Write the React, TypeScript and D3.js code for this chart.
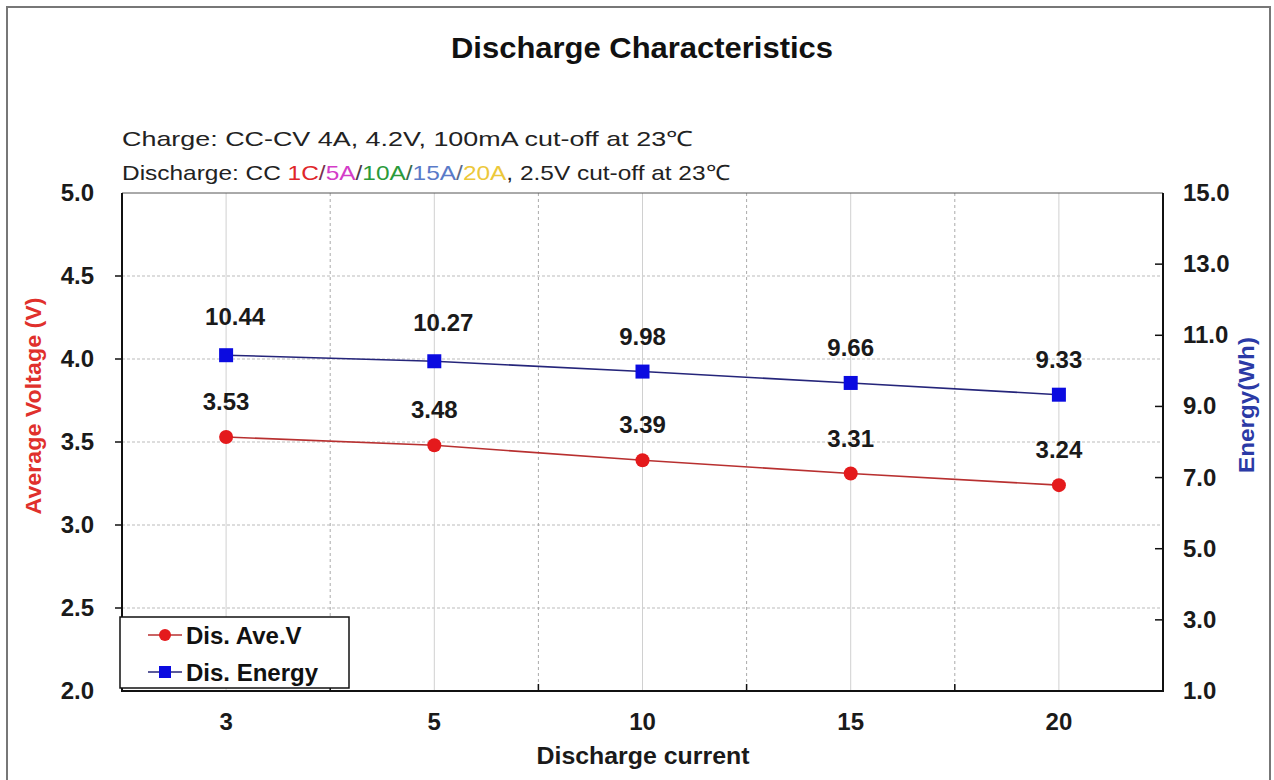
import React from "react";
import * as d3 from "d3";

const categories = ["3", "5", "10", "15", "20"];
const voltage = [3.53, 3.48, 3.39, 3.31, 3.24];
const energy = [10.44, 10.27, 9.98, 9.66, 9.33];
const voltageTicks = [2.0, 2.5, 3.0, 3.5, 4.0, 4.5, 5.0];
const energyTicks = [1, 3, 5, 7, 9, 11, 13, 15];
const seriesNames = ["Dis. Ave.V", "Dis. Energy"];
const subtitle1 = "Charge: CC-CV 4A, 4.2V, 100mA cut-off at 23\u2103";
const subtitle2Parts = [
  { t: "Discharge: CC ", c: "#222" },
  { t: "1C", c: "#e0262a" },
  { t: "/", c: "#7a3050" },
  { t: "5A", c: "#d43cc8" },
  { t: "/", c: "#4a3a4a" },
  { t: "10A", c: "#2a9a3a" },
  { t: "/", c: "#3a6a4a" },
  { t: "15A", c: "#5a7ac8" },
  { t: "/", c: "#5a6a8a" },
  { t: "20A", c: "#ecc83a" },
  { t: ", 2.5V cut-off at 23\u2103", c: "#222" },
];

const W = 1274;
const H = 780;
const L = 122, R = 1163, T = 193, B = 691;
const FONT = "'Liberation Sans', Arial, sans-serif";

export default function App() {
  const x = d3.scaleBand<string>().domain(categories).range([L, R]).padding(0);
  const cx = (c: string) => (x(c) as number) + x.bandwidth() / 2;
  const yV = d3.scaleLinear().domain([2, 5]).range([B, T]);
  const yE = d3.scaleLinear().domain([1, 15]).range([B, T]);

  const vLine = d3.line<number>().x((_, i) => cx(categories[i])).y((d) => yV(d));
  const eLine = d3.line<number>().x((_, i) => cx(categories[i])).y((d) => yE(d));

  const boundaries = categories.slice(1).map((c) => x(c) as number);

  return (
    <svg
      width={W}
      height={H}
      style={{ position: "absolute", left: 0, top: 0, background: "#fff" }}
      fontFamily={FONT}
    >
      <rect x={0} y={0} width={W} height={H} fill="#fff" />
      {/* outer frame */}
      <rect x={7} y={7} width={1263} height={790} fill="none" stroke="#777" strokeWidth={2} />

      {/* title */}
      <text x={642} y={58} textAnchor="middle" fontSize={30} fontWeight="bold" fill="#111" textLength={382} lengthAdjust="spacingAndGlyphs">
        Discharge Characteristics
      </text>
      <text x={122} y={146} fontSize={21} fill="#222" textLength={571} lengthAdjust="spacingAndGlyphs">
        {subtitle1}
      </text>
      <text x={122} y={180} fontSize={21} textLength={608} lengthAdjust="spacingAndGlyphs">
        {subtitle2Parts.map((p, i) => (
          <tspan key={i} fill={p.c}>{p.t}</tspan>
        ))}
      </text>

      {/* grid */}
      {voltageTicks.slice(1, -1).map((v) => (
        <line key={"hg" + v} x1={L} x2={R} y1={yV(v)} y2={yV(v)} stroke="#bbb" strokeWidth={1} strokeDasharray="3,2" />
      ))}
      {categories.map((c) => (
        <line key={"vg" + c} x1={cx(c)} x2={cx(c)} y1={T} y2={B} stroke="#d0d0d0" strokeWidth={1} />
      ))}
      {boundaries.map((b, i) => (
        <line key={"vb" + i} x1={b} x2={b} y1={T} y2={B} stroke="#aaa" strokeWidth={1} strokeDasharray="3,3" />
      ))}

      {/* frame */}
      <line x1={L} x2={R} y1={T} y2={T} stroke="#555" strokeWidth={1} />
      <line x1={L} x2={L} y1={T} y2={B} stroke="#111" strokeWidth={2} />
      <line x1={R} x2={R} y1={T} y2={B} stroke="#111" strokeWidth={2} />
      <line x1={L - 1} x2={R + 1} y1={B} y2={B} stroke="#111" strokeWidth={2} />

      {/* ticks */}
      {voltageTicks.slice(1, -1).map((v) => (
        <line key={"lt" + v} x1={L - 7} x2={L} y1={yV(v)} y2={yV(v)} stroke="#111" strokeWidth={1.5} />
      ))}
      {energyTicks.slice(1, -1).map((v) => (
        <line key={"rt" + v} x1={R - 8} x2={R} y1={yE(v)} y2={yE(v)} stroke="#111" strokeWidth={1.5} />
      ))}
      {boundaries.map((b, i) => (
        <line key={"bt" + i} x1={b} x2={b} y1={B - 7} y2={B} stroke="#111" strokeWidth={1.5} />
      ))}

      {/* tick labels */}
      {voltageTicks.map((v) => (
        <text key={"vl" + v} x={94} y={yV(v) + 8} textAnchor="end" fontSize={24} fontWeight="bold" fill="#1a1a1a">
          {v.toFixed(1)}
        </text>
      ))}
      {energyTicks.map((v) => (
        <text key={"el" + v} x={1183} y={yE(v) + 8} textAnchor="start" fontSize={24} fontWeight="bold" fill="#1a1a1a">
          {v.toFixed(1)}
        </text>
      ))}
      {categories.map((c) => (
        <text key={"cl" + c} x={cx(c)} y={730} textAnchor="middle" fontSize={24} fontWeight="bold" fill="#1a1a1a">
          {c}
        </text>
      ))}

      {/* axis titles */}
      <text x={643} y={764} textAnchor="middle" fontSize={24} fontWeight="bold" fill="#1a1a1a" textLength={213} lengthAdjust="spacingAndGlyphs">
        Discharge current
      </text>
      <text transform="translate(41,406) rotate(-90)" textAnchor="middle" fontSize={22} fontWeight="bold" fill="#e0302c" textLength={217} lengthAdjust="spacingAndGlyphs">
        Average Voltage (V)
      </text>
      <text transform="translate(1254,405) rotate(-90)" textAnchor="middle" fontSize={22} fontWeight="bold" fill="#2b3aa6" textLength={136} lengthAdjust="spacingAndGlyphs">
        Energy(Wh)
      </text>

      {/* series */}
      <path d={vLine(voltage) || ""} fill="none" stroke="#b83030" strokeWidth={1.6} />
      <path d={eLine(energy) || ""} fill="none" stroke="#25257a" strokeWidth={1.6} />
      {voltage.map((v, i) => (
        <circle key={"vp" + i} cx={cx(categories[i])} cy={yV(v)} r={7} fill="#e41a1c" />
      ))}
      {energy.map((v, i) => (
        <rect key={"ep" + i} x={cx(categories[i]) - 7} y={yE(v) - 7} width={14} height={14} fill="#0b0be0" />
      ))}

      {/* data labels */}
      {voltage.map((v, i) => (
        <text key={"vt" + i} x={cx(categories[i])} y={yV(v) - 27} textAnchor="middle" fontSize={24} fontWeight="bold" fill="#1a1a1a">
          {v.toFixed(2)}
        </text>
      ))}
      {energy.map((v, i) => (
        <text key={"et" + i} x={cx(categories[i]) + (v >= 10 ? 9 : 0)} y={yE(v) - (v >= 10 ? 30 : 27)} textAnchor="middle" fontSize={24} fontWeight="bold" fill="#1a1a1a">
          {v.toFixed(2)}
        </text>
      ))}

      {/* legend */}
      <g>
        <rect x={120} y={617} width={229} height={71} fill="#fff" stroke="#111" strokeWidth={1.5} />
        <line x1={148} x2={182} y1={635} y2={635} stroke="#b83030" strokeWidth={1.6} />
        <circle cx={165} cy={635} r={6} fill="#e41a1c" />
        <text x={186} y={644} fontSize={24} fontWeight="bold" fill="#111">{seriesNames[0]}</text>
        <line x1={148} x2={182} y1={672} y2={672} stroke="#25257a" strokeWidth={1.6} />
        <rect x={159} y={666} width={12} height={12} fill="#0b0be0" />
        <text x={186} y={681} fontSize={24} fontWeight="bold" fill="#111">{seriesNames[1]}</text>
      </g>
    </svg>
  );
}
